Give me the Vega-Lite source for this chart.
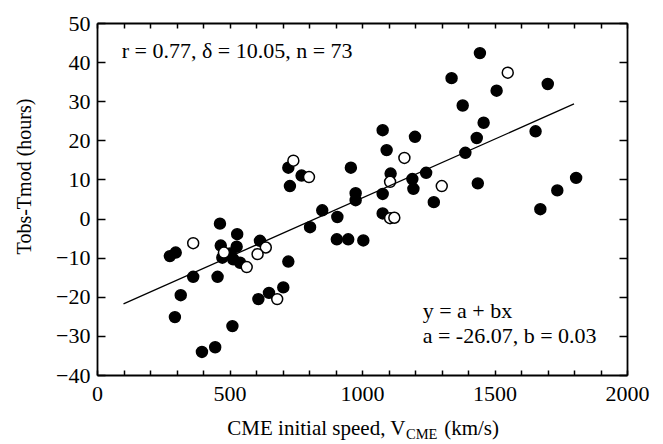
{
  "$schema": "https://vega.github.io/schema/vega-lite/v6.json",
  "width": 530,
  "height": 352,
  "autosize": {"type": "none"},
  "padding": {"left": 97, "top": 23, "right": 36, "bottom": 69},
  "background": "white",
  "config": {
    "font": "Liberation Serif",
    "view": {"stroke": null},
    "axis": {
      "domainColor": "black",
      "domainWidth": 1.8,
      "tickColor": "black",
      "tickWidth": 1.5,
      "labelColor": "black",
      "labelFont": "Liberation Serif",
      "labelFontSize": 22,
      "titleFont": "Liberation Serif",
      "titleColor": "black",
      "titleFontWeight": "normal",
      "grid": false
    }
  },
  "datasets": {
    "points": [
      {"speed": 722, "dt": 13.0, "type": "filled"},
      {"speed": 728, "dt": 8.3, "type": "filled"},
      {"speed": 772, "dt": 11.0, "type": "filled"},
      {"speed": 958, "dt": 13.0, "type": "filled"},
      {"speed": 976, "dt": 6.5, "type": "filled"},
      {"speed": 976, "dt": 4.7, "type": "filled"},
      {"speed": 850, "dt": 2.1, "type": "filled"},
      {"speed": 907, "dt": 0.4, "type": "filled"},
      {"speed": 804, "dt": -2.2, "type": "filled"},
      {"speed": 464, "dt": -1.3, "type": "filled"},
      {"speed": 529, "dt": -4.0, "type": "filled"},
      {"speed": 615, "dt": -5.7, "type": "filled"},
      {"speed": 905, "dt": -5.3, "type": "filled"},
      {"speed": 948, "dt": -5.3, "type": "filled"},
      {"speed": 1005, "dt": -5.6, "type": "filled"},
      {"speed": 1445, "dt": 42.3, "type": "filled"},
      {"speed": 1338, "dt": 35.9, "type": "filled"},
      {"speed": 1701, "dt": 34.4, "type": "filled"},
      {"speed": 1508, "dt": 32.7, "type": "filled"},
      {"speed": 1380, "dt": 28.9, "type": "filled"},
      {"speed": 1459, "dt": 24.5, "type": "filled"},
      {"speed": 1078, "dt": 22.6, "type": "filled"},
      {"speed": 1200, "dt": 20.9, "type": "filled"},
      {"speed": 1093, "dt": 17.5, "type": "filled"},
      {"speed": 1433, "dt": 20.6, "type": "filled"},
      {"speed": 1655, "dt": 22.3, "type": "filled"},
      {"speed": 1390, "dt": 16.8, "type": "filled"},
      {"speed": 1108, "dt": 11.5, "type": "filled"},
      {"speed": 1190, "dt": 10.1, "type": "filled"},
      {"speed": 1194, "dt": 7.6, "type": "filled"},
      {"speed": 1242, "dt": 11.7, "type": "filled"},
      {"speed": 1078, "dt": 6.3, "type": "filled"},
      {"speed": 1437, "dt": 9.0, "type": "filled"},
      {"speed": 1808, "dt": 10.4, "type": "filled"},
      {"speed": 1737, "dt": 7.2, "type": "filled"},
      {"speed": 1271, "dt": 4.2, "type": "filled"},
      {"speed": 1673, "dt": 2.4, "type": "filled"},
      {"speed": 1078, "dt": 1.3, "type": "filled"},
      {"speed": 467, "dt": -6.9, "type": "filled"},
      {"speed": 527, "dt": -7.2, "type": "filled"},
      {"speed": 275, "dt": -9.6, "type": "filled"},
      {"speed": 297, "dt": -8.7, "type": "filled"},
      {"speed": 473, "dt": -10.0, "type": "filled"},
      {"speed": 502, "dt": -8.9, "type": "filled"},
      {"speed": 514, "dt": -10.4, "type": "filled"},
      {"speed": 540, "dt": -11.3, "type": "filled"},
      {"speed": 722, "dt": -11.0, "type": "filled"},
      {"speed": 363, "dt": -14.9, "type": "filled"},
      {"speed": 455, "dt": -14.9, "type": "filled"},
      {"speed": 316, "dt": -19.6, "type": "filled"},
      {"speed": 703, "dt": -17.6, "type": "filled"},
      {"speed": 649, "dt": -19.0, "type": "filled"},
      {"speed": 609, "dt": -20.6, "type": "filled"},
      {"speed": 294, "dt": -25.2, "type": "filled"},
      {"speed": 511, "dt": -27.5, "type": "filled"},
      {"speed": 446, "dt": -32.9, "type": "filled"},
      {"speed": 396, "dt": -34.1, "type": "filled"},
      {"speed": 741, "dt": 14.8, "type": "open"},
      {"speed": 800, "dt": 10.6, "type": "open"},
      {"speed": 1550, "dt": 37.3, "type": "open"},
      {"speed": 1160, "dt": 15.5, "type": "open"},
      {"speed": 1106, "dt": 9.4, "type": "open"},
      {"speed": 1301, "dt": 8.3, "type": "open"},
      {"speed": 1106, "dt": 0.1, "type": "open"},
      {"speed": 1122, "dt": 0.2, "type": "open"},
      {"speed": 363, "dt": -6.3, "type": "open"},
      {"speed": 637, "dt": -7.4, "type": "open"},
      {"speed": 479, "dt": -8.7, "type": "open"},
      {"speed": 606, "dt": -9.1, "type": "open"},
      {"speed": 565, "dt": -12.4, "type": "open"},
      {"speed": 680, "dt": -20.6, "type": "open"}
    ],
    "fit": [
      {"speed": 100, "dt": -21.8},
      {"speed": 1800, "dt": 29.3}
    ]
  },
  "layer": [
    {
      "data": {"name": "points"},
      "mark": {"type": "point", "shape": "circle", "filled": true, "size": 120, "stroke": "black", "strokeWidth": 1.5, "opacity": 1},
      "encoding": {
        "x": {
          "field": "speed", "type": "quantitative",
          "scale": {"domain": [0, 2000], "nice": false, "zero": false},
          "axis": {
            "orient": "bottom", "title": null,
            "values": [0,100,200,300,400,500,600,700,800,900,1000,1100,1200,1300,1400,1500,1600,1700,1800,1900,2000],
            "format": "d",
            "labelExpr": "datum.value % 500 === 0 ? datum.label : ''",
            "tickSize": -5, "labelPadding": 13, "labelFlush": false, "labelOverlap": false
          }
        },
        "y": {
          "field": "dt", "type": "quantitative",
          "scale": {"domain": [-40, 50], "nice": false, "zero": false},
          "axis": {
            "orient": "left",
            "title": "Tobs-Tmod (hours)",
            "titleFontSize": 20,
            "titleAngle": 270,
            "titleBaseline": "alphabetic",
            "titleX": -67,
            "titleY": 153,
            "values": [-40,-30,-20,-10,0,10,20,30,40,50],
            "tickSize": -8, "labelPadding": 15, "labelFlush": false, "labelOverlap": false
          }
        },
        "fill": {
          "field": "type", "type": "nominal",
          "scale": {"domain": ["filled", "open"], "range": ["black", "white"]},
          "legend": null
        }
      }
    },
    {
      "data": {"name": "fit"},
      "mark": {"type": "line", "color": "black", "strokeWidth": 1.3},
      "encoding": {
        "x": {
          "field": "speed", "type": "quantitative",
          "scale": {"domain": [0, 2000], "nice": false, "zero": false},
          "axis": {
            "orient": "top", "title": null, "labels": false,
            "values": [0,100,200,300,400,500,600,700,800,900,1000,1100,1200,1300,1400,1500,1600,1700,1800,1900,2000],
            "tickSize": -5
          }
        },
        "y": {
          "field": "dt", "type": "quantitative",
          "scale": {"domain": [-40, 50], "nice": false, "zero": false},
          "axis": {
            "orient": "right", "title": null, "labels": false,
            "values": [-40,-30,-20,-10,0,10,20,30,40,50],
            "tickSize": -8
          }
        }
      }
    },
    {
      "data": {"values": [
        {"x": 93, "y": 41.0, "label": "r = 0.77, δ = 10.05, n = 73"},
        {"x": 1229, "y": -25.5, "label": "y = a + bx"},
        {"x": 1229, "y": -31.9, "label": "a = -26.07, b = 0.03"}
      ]},
      "mark": {"type": "text", "align": "left", "baseline": "alphabetic", "fontSize": 22, "color": "black"},
      "encoding": {
        "x": {"field": "x", "type": "quantitative", "axis": null},
        "y": {"field": "y", "type": "quantitative", "axis": null},
        "text": {"field": "label"}
      }
    },
    {
      "data": {"values": [
        {"x": 1164, "y": -55.3, "label": "CME initial speed, V"}
      ]},
      "mark": {"type": "text", "align": "right", "baseline": "alphabetic", "fontSize": 21, "color": "black"},
      "encoding": {
        "x": {"field": "x", "type": "quantitative", "axis": null},
        "y": {"field": "y", "type": "quantitative", "axis": null},
        "text": {"field": "label"}
      }
    },
    {
      "data": {"values": [
        {"x": 1166, "y": -56.4, "label": "CME"}
      ]},
      "mark": {"type": "text", "align": "left", "baseline": "alphabetic", "fontSize": 14.5, "color": "black"},
      "encoding": {
        "x": {"field": "x", "type": "quantitative", "axis": null},
        "y": {"field": "y", "type": "quantitative", "axis": null},
        "text": {"field": "label"}
      }
    },
    {
      "data": {"values": [
        {"x": 1310, "y": -55.3, "label": "(km/s)"}
      ]},
      "mark": {"type": "text", "align": "left", "baseline": "alphabetic", "fontSize": 21, "color": "black"},
      "encoding": {
        "x": {"field": "x", "type": "quantitative", "axis": null},
        "y": {"field": "y", "type": "quantitative", "axis": null},
        "text": {"field": "label"}
      }
    }
  ],
  "resolve": {"axis": {"x": "independent", "y": "independent"}}
}
